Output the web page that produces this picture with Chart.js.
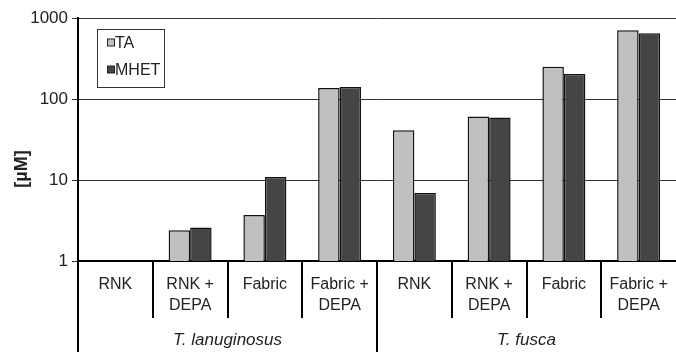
<!DOCTYPE html>
<html>
<head>
<meta charset="utf-8">
<script src="https://cdn.jsdelivr.net/npm/chart.js@4/dist/chart.umd.min.js"></script>
<style>
  body { margin: 0; background: #fff; }
  canvas { display: block; }
</style>
</head>
<body>
<canvas id="chart" width="676" height="352"></canvas>
<script>
  var categories = [['RNK'], ['RNK +', 'DEPA'], ['Fabric'], ['Fabric +', 'DEPA'],
                    ['RNK'], ['RNK +', 'DEPA'], ['Fabric'], ['Fabric +', 'DEPA']];
  var groups = ['T. lanuginosus', 'T. fusca'];
  var groupSize = 4;
  var taValues = [null, 2.4, 3.7, 137, 41, 61, 250, 705];
  var mhetValues = [null, 2.6, 10.9, 141, 6.9, 59, 204, 647];
  var yTicks = [1, 10, 100, 1000];

  var FONT = '"Liberation Sans", Arial, sans-serif';
  var INK = '#222';

  // category separators, group labels, y title and the boxed legend
  var decorations = {
    id: 'decorations',
    afterDraw: function(chart) {
      var ctx = chart.ctx;
      var x = chart.scales.x;
      var area = chart.chartArea;
      var half = (x.getPixelForValue(1) - x.getPixelForValue(0)) / 2;
      ctx.save();
      ctx.strokeStyle = '#000';
      ctx.lineWidth = 2;
      for (var i = 0; i < categories.length; i++) {
        var bx = Math.round(x.getPixelForValue(i) - half);
        var isGroupEdge = i % groupSize === 0;
        ctx.beginPath();
        ctx.moveTo(bx, area.bottom);
        ctx.lineTo(bx, isGroupEdge ? chart.height : area.bottom + 57);
        ctx.stroke();
      }

      ctx.fillStyle = INK;
      ctx.font = 'italic 17px ' + FONT;
      ctx.textAlign = 'center';
      ctx.textBaseline = 'middle';
      groups.forEach(function(g, gi) {
        var left = x.getPixelForValue(gi * groupSize) - half;
        var right = x.getPixelForValue(gi * groupSize + groupSize - 1) + half;
        ctx.fillText(g, (left + right) / 2, 340);
      });

      ctx.save();
      ctx.translate(22, 169);
      ctx.rotate(-Math.PI / 2);
      ctx.font = 'bold 18px ' + FONT;
      ctx.fillText('[µM]', 0, 0);
      ctx.restore();

      // legend
      ctx.lineWidth = 1;
      ctx.strokeStyle = '#333';
      ctx.strokeRect(97.5, 29.5, 67, 58);
      ctx.font = '16px ' + FONT;
      ctx.textAlign = 'left';
      chart.data.datasets.forEach(function(ds, di) {
        var cy = 42.5 + di * 27;
        ctx.fillStyle = ds.backgroundColor;
        ctx.fillRect(107, cy - 3.5, 7, 7);
        ctx.strokeStyle = '#222';
        ctx.strokeRect(107.5, cy - 3.5, 7, 7);
        ctx.fillStyle = INK;
        ctx.fillText(ds.label, 115, cy + 1);
      });
      ctx.restore();
    }
  };

  new Chart(document.getElementById('chart').getContext('2d'), {
    type: 'bar',
    data: {
      labels: categories,
      datasets: [{
        label: 'TA',
        data: taValues,
        backgroundColor: '#c0c0c0',
        borderColor: '#111',
        borderWidth: 1.5,
        barPercentage: 1,
        categoryPercentage: 0.575
      }, {
        label: 'MHET',
        data: mhetValues,
        backgroundColor: '#454545',
        borderColor: '#111',
        borderWidth: 1.5,
        barPercentage: 1,
        categoryPercentage: 0.575
      }]
    },
    options: {
      responsive: false,
      animation: false,
      layout: { padding: { top: 18, right: -2, left: 0, bottom: 0 } },
      plugins: {
        legend: { display: false },
        tooltip: { enabled: false }
      },
      scales: {
        x: {
          grid: { display: false, drawTicks: false },
          border: { display: true, color: '#000', width: 2 },
          ticks: {
            color: INK,
            padding: 13,
            maxRotation: 0,
            autoSkip: false,
            font: { family: FONT, size: 16, lineHeight: 1.3 }
          },
          afterFit: function(scale) {
            scale.height = 91;
            scale.paddingLeft = 0;
            scale.paddingRight = 0;
          }
        },
        y: {
          type: 'logarithmic',
          min: 1,
          max: 1000,
          afterBuildTicks: function(scale) {
            scale.ticks = yTicks.map(function(v) { return { value: v }; });
          },
          grid: { color: '#333', lineWidth: 1, tickLength: 6 },
          border: { display: true, color: '#000', width: 2 },
          ticks: {
            color: INK,
            padding: 4,
            font: { family: FONT, size: 17 },
            callback: function(v) { return String(v); }
          },
          afterFit: function(scale) { scale.width = 78; }
        }
      }
    },
    plugins: [decorations]
  });
</script>
</body>
</html>
